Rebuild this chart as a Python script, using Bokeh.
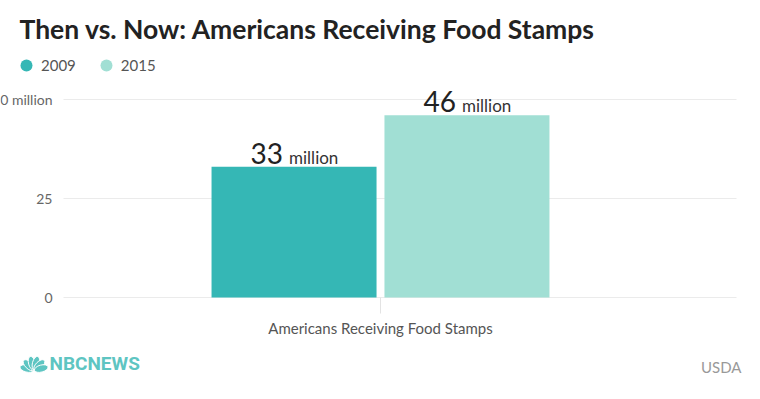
import math
from bokeh.plotting import figure
from bokeh.models import (Range1d, FixedTicker, Label, Legend, LegendItem,
                          ColumnDataSource, Grid, LinearAxis)
from bokeh.core.properties import value
from bokeh.embed import file_html
from bokeh.resources import INLINE

# ---- data ----
title = "Then vs. Now: Americans Receiving Food Stamps"
categories = ["Americans Receiving Food Stamps"]
series = ["2009", "2015"]
values = [33, 46]
value_unit = "million"
colors = ["#35b7b5", "#a1dfd4"]
y_ticks = [0, 25, 50]
y_tick_labels = ["0", "25", "50 million"]
source_note = "USDA"
brand = "NBCNEWS"

FONT = "Lato"
W, H = 744, 383
# layout: pixel position of category 0 / value 0 and scale factors
X0PX, PXU = 380.0, 330.0
Y0PX, PYU = 297.0, 3.96
PLOT_L, PLOT_R = 63, 736


def dx(px):
    return (px - X0PX) / PXU


def dy(py):
    return (Y0PX - py) / PYU


p = figure(width=W, height=H, output_backend="svg", toolbar_location=None,
           x_range=Range1d(dx(0), dx(W)), y_range=Range1d(dy(H), dy(0)),
           x_axis_location=None, y_axis_location=None, title_location=None,
           min_border=0)
p.outline_line_color = None
p.background_fill_color = "white"
p.border_fill_color = "white"
p.center = []

grid_kw = dict(dimension=1, ticker=FixedTicker(ticks=y_ticks),
               grid_line_color="#ebebeb", grid_line_width=1)
if "cross_bounds" in Grid.properties():
    p.add_layout(Grid(cross_bounds=(dx(PLOT_L), dx(PLOT_R)), **grid_kw))
else:
    p.segment(x0=[dx(PLOT_L)] * len(y_ticks), x1=[dx(PLOT_R)] * len(y_ticks),
              y0=y_ticks, y1=y_ticks, line_color="#ebebeb", line_width=1)

# y axis (labels only)
yaxis = LinearAxis(ticker=FixedTicker(ticks=y_ticks), fixed_location=dx(PLOT_L),
                   major_label_overrides={t: l for t, l in zip(y_ticks, y_tick_labels)},
                   axis_line_color=None, major_tick_line_color=None,
                   minor_tick_line_color=None, major_label_standoff=5,
                   major_label_text_font=FONT, major_label_text_font_size="14px",
                   major_label_text_color="#666666")
p.add_layout(yaxis, "left")

# x axis
xaxis = LinearAxis(ticker=FixedTicker(ticks=list(range(len(categories)))),
                   fixed_location=0,
                   major_label_overrides={i: c for i, c in enumerate(categories)},
                   axis_line_color=None, major_tick_out=16, major_tick_in=0,
                   major_tick_line_color="#e3e3e3", minor_tick_line_color=None,
                   major_label_standoff=5, major_label_text_font=FONT,
                   major_label_text_font_size="15px",
                   major_label_text_color="#555555")
p.add_layout(xaxis, "below")

# bars
offsets = [-0.262, 0.262]
legend_items = []
for i, (s, v, c) in enumerate(zip(series, values, colors)):
    src = ColumnDataSource(dict(x=[0 + offsets[i]], top=[v], mid=[v / 2],
                                num=[str(v)], unit=[value_unit]))
    # legend proxy (hidden behind its own bar)
    r = p.scatter(x="x", y="mid", source=src, marker="circle", size=12,
                  fill_color=c, line_color=None)
    p.vbar(x="x", top="top", width=0.5, source=src, fill_color=c,
           line_color=None)
    p.text(x="x", y="top", text="num", source=src, text_align="right",
           text_baseline="middle", x_offset=-11, y_offset=-13.5,
           text_font=value(FONT), text_font_size="28px", text_color="#222222")
    p.text(x="x", y="top", text="unit", source=src, text_align="left",
           text_baseline="middle", x_offset=-5, y_offset=-9.5,
           text_font=value(FONT), text_font_size="17px", text_color="#333333")
    legend_items.append(LegendItem(label=s, renderers=[r]))

legend = Legend(items=legend_items, orientation="horizontal",
                location=(11, H - 80), glyph_width=30, glyph_height=30,
                label_standoff=-3, spacing=15, padding=0, margin=0,
                border_line_color=None, background_fill_alpha=0,
                label_text_font=FONT, label_text_font_size="15px",
                label_text_color="#555555")
p.add_layout(legend, "center")

# title
p.add_layout(Label(x=19, y=H - 28.5, x_units="screen", y_units="screen",
                   text=title, text_align="left", text_baseline="middle",
                   text_font=FONT, text_font_style="bold",
                   text_font_size="26.5px", text_color="#222222"))
# footer
p.add_layout(Label(x=741, y=H - 366, x_units="screen", y_units="screen",
                   text=source_note, text_align="right", text_baseline="middle",
                   text_font=FONT, text_font_size="15px", text_color="#999999"))
p.add_layout(Label(x=49, y=H - 363, x_units="screen", y_units="screen",
                   text=brand, text_align="left", text_baseline="middle",
                   text_font="Roboto", text_font_style="bold",
                   text_font_size="19px", text_color="#5ec5c2"))

# peacock mark of the logo (decoration)
angles = [165, 135, 105, 75, 45, 15]
base_x, base_y, reach = 33.5, 370.0, 7.5
p.ellipse(x=[dx(base_x + reach * math.cos(math.radians(a))) for a in angles],
          y=[dy(base_y - reach * math.sin(math.radians(a))) for a in angles],
          width=14, height=7, width_units="screen", height_units="screen",
          angle=[math.radians(a) for a in angles],
          fill_color="#5ec5c2", line_color="white", line_width=1)

open("out.html", "w").write(file_html(p, INLINE))
